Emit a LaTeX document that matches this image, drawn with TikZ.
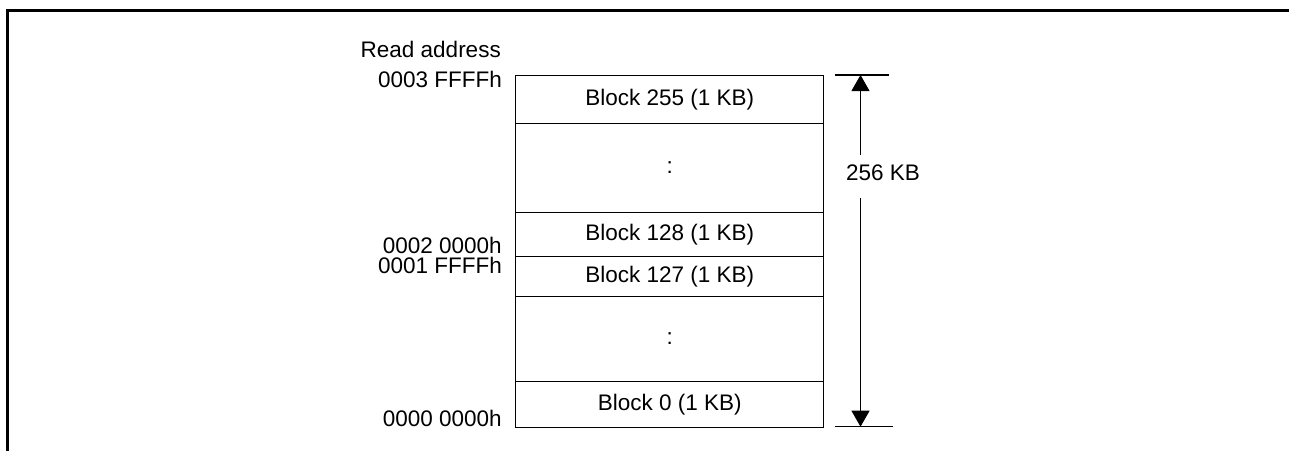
\documentclass[tikz,border=0pt]{standalone}
\usepackage{fontspec}
\setmainfont{Liberation Sans}
\usetikzlibrary{arrows.meta}
\begin{document}
\begin{tikzpicture}[x=1pt,y=-1pt,
  every node/.style={font=\fontsize{22.5}{26}\selectfont, inner sep=0pt},
  blk/.style={draw, line width=1.3pt, minimum width=308pt, anchor=north},
  addr/.style={anchor=base east},
  frame/.style={line width=2.8pt},
  dimline/.style={line width=1pt},
  tick/.style={line width=1.3pt},
  tip/.style={-{Triangle[width=18pt,length=16pt]}}]
\useasboundingbox (0,0) rectangle (1289,451);
% frame
\coordinate (fbl) at (7.3,451);
\coordinate (ftl) at (7.3,10.5);
\coordinate (ftr) at (1289,10.5);
\draw[frame] (fbl) -- (ftl) -- (ftr);
% blocks
\node[blk, minimum height=47.7pt] (b255) at (669.7,75) {Block 255 (1 KB)};
\node[blk, minimum height=89pt] (d1) at (669.7,122.7) {:};
\node[blk, minimum height=44.3pt] (b128) at (669.7,211.7) {Block 128 (1 KB)};
\node[blk, minimum height=39.7pt] (b127) at (669.7,256) {Block 127 (1 KB)};
\node[blk, minimum height=85.3pt] (d2) at (669.7,295.7) {:};
\node[blk, minimum height=45.7pt] (b0) at (669.7,381) {Block 0 (1 KB)};
% addresses
\node[addr] (ra) at (501,57) {Read address};
\node[addr] (a3) at (502,87) {0003 FFFFh};
\node[addr] (a2) at (502,253.5) {0002 0000h};
\node[addr] (a1) at (502,273.5) {0001 FFFFh};
\node[addr] (a0) at (502,426) {0000 0000h};
% dimension
\coordinate (tl1) at (835,75);
\coordinate (tl2) at (889,75);
\coordinate (bl1) at (835,426.7);
\coordinate (bl2) at (893,426.7);
\draw[tick] (tl1) -- (tl2);
\draw[tick] (bl1) -- (bl2);
\coordinate (ttop) at (860.5,75);
\coordinate (tbot) at (860.5,426.7);
\coordinate (gtop) at (860.5,155);
\coordinate (gbot) at (860.5,198);
\node (kb) at (883,173) {256 KB};
\draw[dimline, tip] (gtop) -- (ttop);
\draw[dimline, tip] (gbot) -- (tbot);
\end{tikzpicture}
\end{document}
